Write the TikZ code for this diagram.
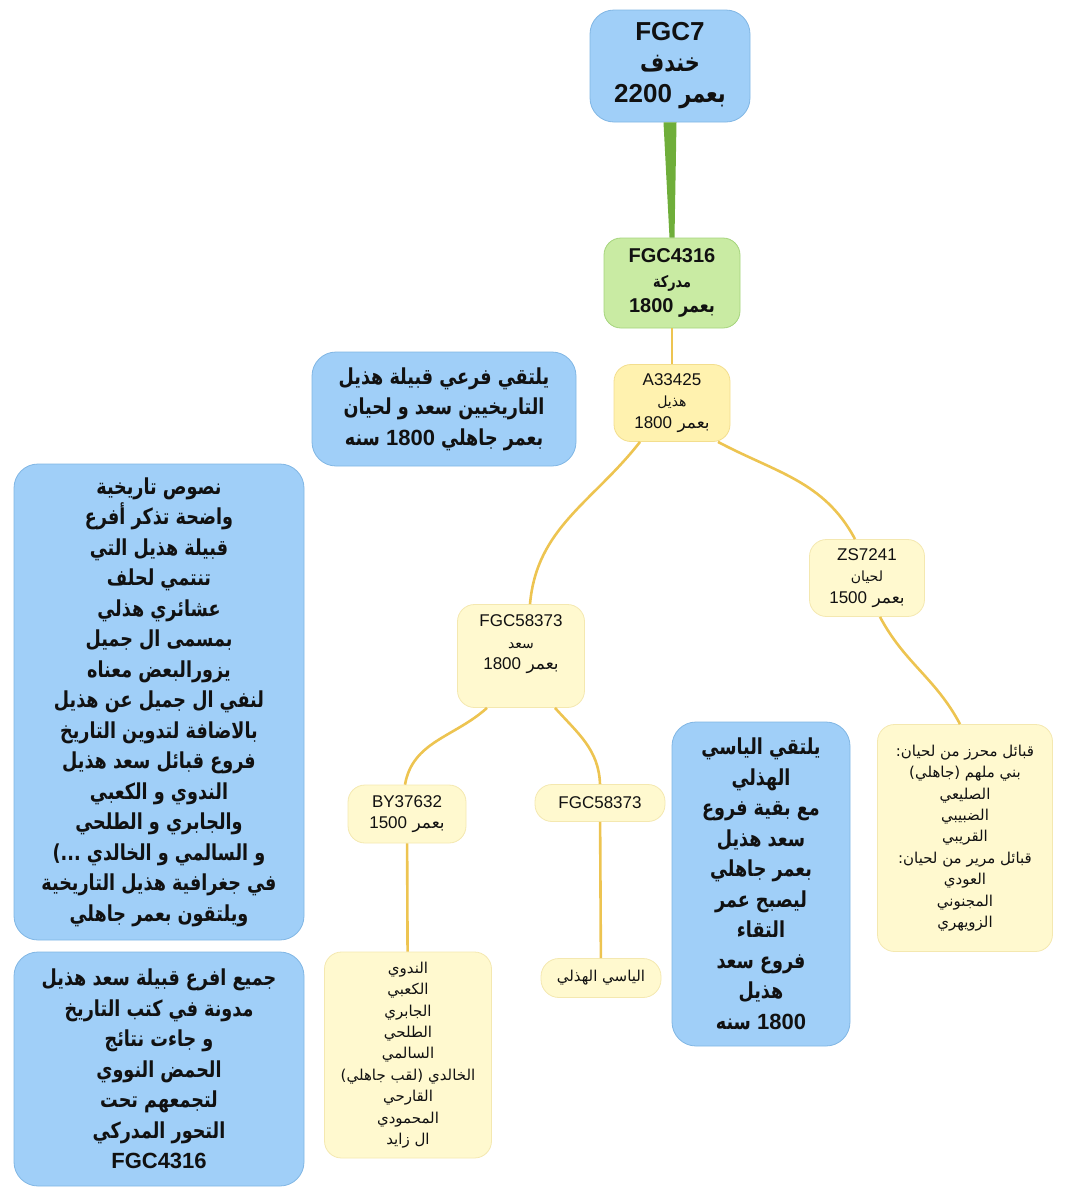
\documentclass[tikz,border=0pt]{standalone}
\usepackage{xcolor}
\usepackage{fontspec}
\usepackage{tikz}
\setmainfont{Liberation Sans}
\newfontfamily\arabicfont[Script=Arabic, BoldFeatures={FakeStretch=0.8}]{DejaVu Sans}
\TeXXeTstate=1
\newcommand{\AR}[1]{{\arabicfont\beginR #1\endR}}
\newcommand{\num}[1]{{\rmfamily #1}}
\definecolor{Ink}{HTML}{111111}
\definecolor{NoteBlue}{HTML}{A0CFF8}
\definecolor{NoteEdge}{HTML}{80B6E4}
\definecolor{SoftGreen}{HTML}{C9EBA3}
\definecolor{GreenEdge}{HTML}{A5D47C}
\definecolor{Yellow}{HTML}{FFF2AF}
\definecolor{YellowEdge}{HTML}{F3DE8E}
\definecolor{PaleYellow}{HTML}{FFF9CF}
\definecolor{PaleEdge}{HTML}{F4E8B0}
\definecolor{Branch}{HTML}{EDC451}
\definecolor{Stem}{HTML}{6FAE3A}

\begin{document}
\begin{tikzpicture}[
  x=1pt, y=-1pt,
  box/.style={rectangle, rounded corners=17pt, line width=0.8pt, align=center, inner sep=2pt, text=Ink},
  note/.style={box, fill=NoteBlue, draw=NoteEdge, rounded corners=24pt, font=\bfseries\fontsize{22}{30.5}\selectfont},
  root/.style={note, font=\bfseries\fontsize{26}{31}\selectfont},
  mid/.style={box, fill=SoftGreen, draw=GreenEdge, font=\bfseries\fontsize{20}{25}\selectfont},
  hap/.style={box, fill=Yellow, draw=YellowEdge, font=\fontsize{17}{21.5}\selectfont},
  leaf/.style={hap, fill=PaleYellow, draw=PaleEdge},
  roster/.style={leaf, font=\fontsize{15}{21.4}\selectfont},
  branch/.style={draw=Branch, line width=2.6pt},
  stem/.style={fill=Stem}
]
\useasboundingbox (0,0) rectangle (1066,1200);

% tree
\node[root, minimum width=160pt, minimum height=112pt] (khindif) at (670,66)
  {FGC7\\\AR{خندف}\\\AR{بعمر \num{2200}}};
\node[mid, minimum width=136pt, minimum height=90pt] (mudrika) at (672,283)
  {FGC4316\\{\fontsize{16}{25}\selectfont\AR{مدركة}}\\\AR{بعمر \num{1800}}};
\node[hap, minimum width=116pt, minimum height=77pt] (hudhail) at (672,403)
  {A33425\\{\fontsize{14}{21.5}\selectfont\AR{هذيل}}\\\AR{بعمر \num{1800}}};
\node[leaf, minimum width=115pt, minimum height=77pt] (lihyan) at (867,578)
  {ZS7241\\{\fontsize{14}{21.5}\selectfont\AR{لحيان}}\\\AR{بعمر \num{1500}}};
\node[leaf, minimum width=127pt, minimum height=103pt] (saad) at (521,656)
  {FGC58373\\{\fontsize{14}{21.5}\selectfont\AR{سعد}}\\\AR{بعمر \num{1800}}\\[6pt]};
\node[leaf, minimum width=118pt, minimum height=58pt] (saadA) at (407,814)
  {BY37632\\\AR{بعمر \num{1500}}};
\node[leaf, minimum width=130pt, minimum height=37pt, rounded corners=17pt] (saadB) at (600,803)
  {FGC58373};

% tribes
\node[roster, minimum width=167pt, minimum height=206pt] (saadTribes) at (408,1055)
  {\AR{الندوي}\\\AR{الكعبي}\\\AR{الجابري}\\\AR{الطلحي}\\\AR{السالمي}\\\AR{الخالدي (لقب جاهلي)}\\\AR{القارحي}\\\AR{المحمودي}\\\AR{ال زايد}};
\node[roster, minimum width=120pt, minimum height=39pt, rounded corners=18pt] (yasi) at (601,978)
  {\AR{الياسي الهذلي}};
\node[roster, minimum width=175pt, minimum height=227pt] (lihyanTribes) at (965,838)
  {\AR{قبائل محرز من لحيان:}\\\AR{بني ملهم (جاهلي)}\\\AR{الصليعي}\\\AR{الضبيبي}\\\AR{القريبي}\\\AR{قبائل مرير من لحيان:}\\\AR{العودي}\\\AR{المجنوني}\\\AR{الزويهري}};

% notes
\node[note, minimum width=264pt, minimum height=114pt] (meetNote) at (444,409)
  {\AR{يلتقي فرعي قبيلة هذيل}\\\AR{التاريخيين سعد و لحيان}\\\AR{بعمر جاهلي \num{1800} سنه}};
\node[note, minimum width=178pt, minimum height=324pt] (yasiNote) at (761,884)
  {\AR{يلتقي الياسي}\\\AR{الهذلي}\\\AR{مع بقية فروع}\\\AR{سعد هذيل}\\\AR{بعمر جاهلي}\\\AR{ليصبح عمر}\\\AR{التقاء}\\\AR{فروع سعد}\\\AR{هذيل}\\\AR{\num{1800} سنه}};
\node[note, minimum width=290pt, minimum height=476pt] (historyNote) at (159,702)
  {\AR{نصوص تاريخية}\\\AR{واضحة تذكر أفرع}\\\AR{قبيلة هذيل التي}\\\AR{تنتمي لحلف}\\\AR{عشائري هذلي}\\\AR{بمسمى ال جميل}\\\AR{يزورالبعض معناه}\\\AR{لنفي ال جميل عن هذيل}\\\AR{بالاضافة لتدوين التاريخ}\\\AR{فروع قبائل سعد هذيل}\\\AR{الندوي و الكعبي}\\\AR{والجابري و الطلحي}\\\AR{و السالمي و الخالدي ...)}\\\AR{في جغرافية هذيل التاريخية}\\\AR{ويلتقون بعمر جاهلي}};
\node[note, minimum width=290pt, minimum height=234pt] (dnaNote) at (159,1069)
  {\AR{جميع افرع قبيلة سعد هذيل}\\\AR{مدونة في كتب التاريخ}\\\AR{و جاءت نتائج}\\\AR{الحمض النووي}\\\AR{لتجمعهم تحت}\\\AR{التحور المدركي}\\FGC4316};

% links
\fill[stem] ([xshift=-6.5pt]khindif.south) -- ([xshift=6.5pt]khindif.south)
  -- ([xshift=2.5pt]mudrika.north) -- ([xshift=-2.5pt]mudrika.north) -- cycle;
\draw[branch] (mudrika) -- (hudhail);
\draw[branch] ([xshift=-32pt]hudhail.south) to[out=-128, in=85] ([xshift=9pt]saad.north);
\draw[branch] ([xshift=46pt]hudhail.south) to[out=-28, in=118] ([xshift=-12pt]lihyan.north);
\draw[branch] ([xshift=13pt]lihyan.south) to[out=-62, in=118] ([xshift=-5pt]lihyanTribes.north);
\draw[branch] ([xshift=-34pt]saad.south) to[out=-138, in=80] ([xshift=-2pt]saadA.north);
\draw[branch] ([xshift=34pt]saad.south) to[out=-48, in=92] (saadB.north);
\draw[branch] (saadA) -- (saadTribes);
\draw[branch] (saadB) -- (yasi);
\end{tikzpicture}
\end{document}
